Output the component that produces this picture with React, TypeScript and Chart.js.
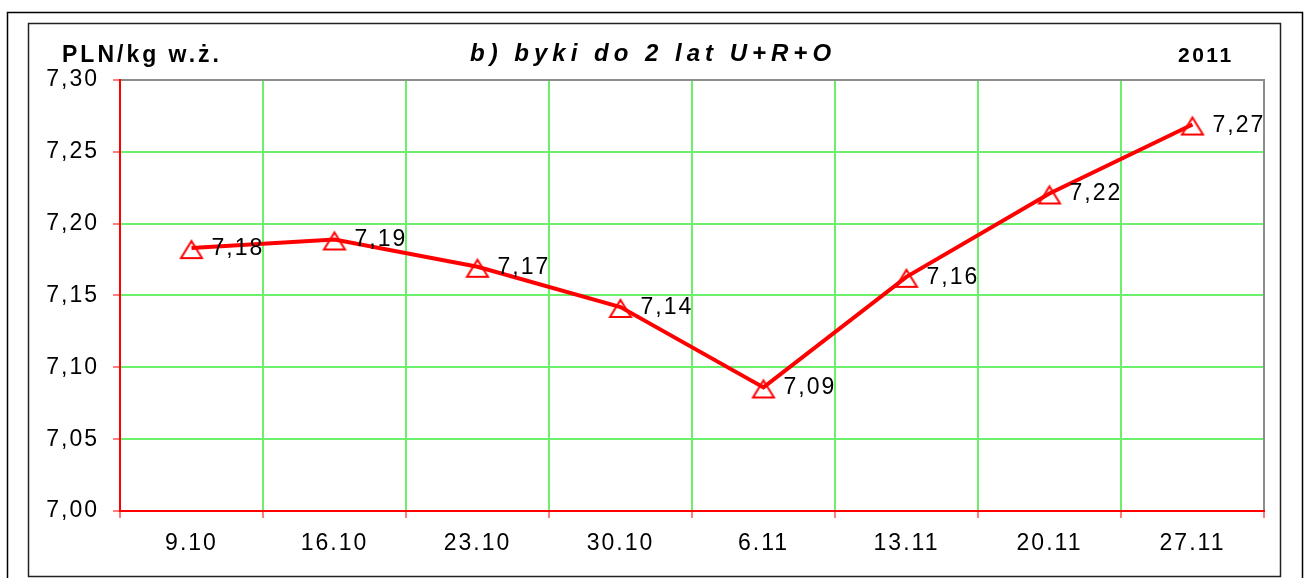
import React, { useEffect, useRef } from "react";
import { Chart, registerables } from "chart.js";

Chart.register(...registerables);

const categories = ["9.10", "16.10", "23.10", "30.10", "6.11", "13.11", "20.11", "27.11"];
const prices = [7.183, 7.189, 7.17, 7.142, 7.086, 7.163, 7.221, 7.269];
const priceLabels = ["7,18", "7,19", "7,17", "7,14", "7,09", "7,16", "7,22", "7,27"];
const yMin = 7.0;
const yMax = 7.3;
const yStep = 0.05;
const titleText = "b) byki do 2 lat U+R+O";
const unitText = "PLN/kg w.ż.";
const yearText = "2011";

const FONT = "'Liberation Sans', Arial, sans-serif";

function makeTriangle(): HTMLCanvasElement {
  const c = document.createElement("canvas");
  c.width = 30;
  c.height = 30;
  const g = c.getContext("2d")!;
  g.strokeStyle = "#ff0000";
  g.lineWidth = 2;
  g.lineJoin = "miter";
  g.beginPath();
  g.moveTo(15, 8);
  g.lineTo(25.5, 25);
  g.lineTo(4.5, 25);
  g.closePath();
  g.stroke();
  return c;
}

const framePlugin = {
  id: "frame",
  beforeDraw(chart: any) {
    const ctx = chart.ctx;
    ctx.save();
    ctx.fillStyle = "#fff";
    ctx.fillRect(0, 0, chart.width, chart.height);
    ctx.strokeStyle = "#000";
    ctx.lineWidth = 1.5;
    ctx.beginPath();
    ctx.moveTo(7.5, 600);
    ctx.lineTo(7.5, 12.5);
    ctx.lineTo(1302.5, 12.5);
    ctx.lineTo(1302.5, 600);
    ctx.stroke();
    ctx.strokeStyle = "#222";
    ctx.lineWidth = 1.5;
    ctx.strokeRect(28.5, 23.5, 1252, 553);
    ctx.restore();
    (ctx as any).letterSpacing = "2px";
  },
  beforeDatasetsDraw(chart: any) {
    const { ctx, chartArea } = chart;
    const left = Math.round(chartArea.left);
    const right = Math.round(chartArea.right);
    const top = Math.round(chartArea.top);
    const bottom = Math.round(chartArea.bottom);
    ctx.save();
    ctx.lineWidth = 2;
    ctx.strokeStyle = "#8a8f8a";
    ctx.beginPath();
    ctx.moveTo(left, top);
    ctx.lineTo(right, top);
    ctx.lineTo(right, bottom);
    ctx.stroke();
    ctx.strokeStyle = "#ff0000";
    ctx.beginPath();
    ctx.moveTo(left, top - 1);
    ctx.lineTo(left, bottom);
    ctx.lineTo(right + 1, bottom);
    ctx.stroke();
    ctx.restore();
  },
  afterDatasetsDraw(chart: any) {
    const ctx = chart.ctx;
    const meta = chart.getDatasetMeta(0);
    ctx.save();
    (ctx as any).letterSpacing = "2px";
    ctx.fillStyle = "#000";
    ctx.font = `23px ${FONT}`;
    ctx.textAlign = "left";
    ctx.textBaseline = "alphabetic";
    meta.data.forEach((pt: any, i: number) => {
      ctx.fillText(priceLabels[i], pt.x + 20, pt.y + 7);
    });
    // titles
    (ctx as any).letterSpacing = "5px";
    ctx.font = `italic bold 24px ${FONT}`;
    ctx.textAlign = "left";
    ctx.fillText(titleText, 470, 61);
    (ctx as any).letterSpacing = "3px";
    ctx.font = `bold 23px ${FONT}`;
    ctx.fillText(unitText, 62, 62);
    (ctx as any).letterSpacing = "2.5px";
    ctx.font = `bold 21px ${FONT}`;
    ctx.fillText(yearText, 1178, 62);
    ctx.restore();
  },
};

export default function App() {
  const ref = useRef<HTMLCanvasElement | null>(null);
  useEffect(() => {
    document.body.style.margin = "0";
    const canvas = ref.current!;
    const tri = makeTriangle();
    const chart = new Chart(canvas, {
      type: "line",
      data: {
        labels: categories,
        datasets: [
          {
            data: prices,
            borderColor: "#ff0000",
            borderWidth: 4,
            pointStyle: tri as any,
            pointRadius: 9,
            tension: 0,
          },
        ],
      },
      options: {
        animation: false,
        responsive: false,
        devicePixelRatio: 1,
        layout: { padding: { left: 28, top: 80, right: 42, bottom: 0 } },
        plugins: { legend: { display: false }, tooltip: { enabled: false }, title: { display: false } },
        scales: {
          x: {
            offset: true,
            grid: { offset: true, color: "#6cf06c", lineWidth: 2, tickColor: "#ff5555", tickLength: 7, tickWidth: 1.5 },
            border: { display: false },
            ticks: { color: "#000", font: { family: FONT, size: 23 }, padding: 12, maxRotation: 0 },
            afterFit: (s: any) => {
              s.height = 67;
            },
          },
          y: {
            min: yMin,
            max: yMax,
            grid: { color: "#6cf06c", lineWidth: 2, tickColor: "#ff5555", tickLength: 7, tickWidth: 1.5 },
            border: { display: false },
            ticks: {
              stepSize: yStep,
              color: "#000",
              font: { family: FONT, size: 23 },
              padding: 14,
              callback: (v: any) => Number(v).toFixed(2).replace(".", ","),
            },
            afterFit: (s: any) => {
              s.width = 92;
            },
          },
        },
      },
      plugins: [framePlugin],
    });
    return () => chart.destroy();
  }, []);
  return (
    <div style={{ position: "absolute", left: 0, top: 0, width: 1306, height: 578 }}>
      <canvas ref={ref} width={1306} height={578} style={{ display: "block", width: 1306, height: 578 }} />
    </div>
  );
}
